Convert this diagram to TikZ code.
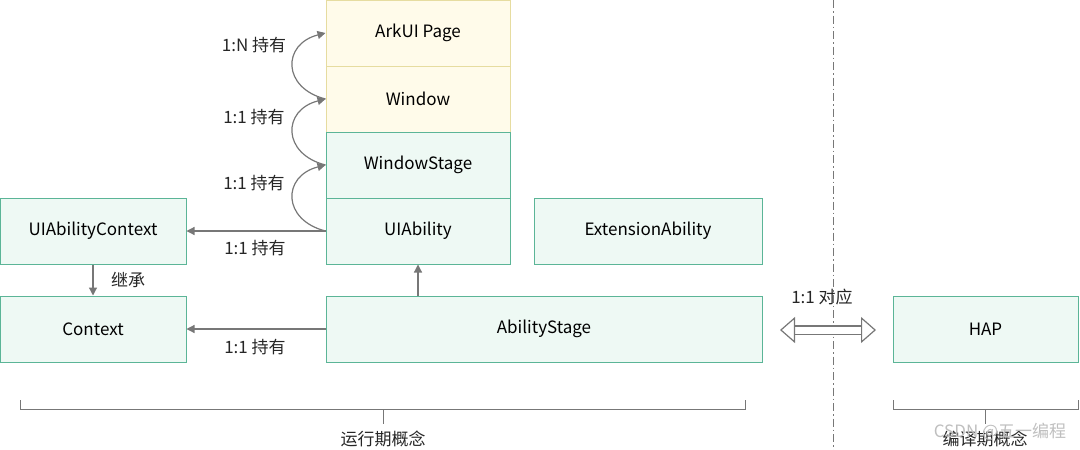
\documentclass[tikz,border=0pt]{standalone}
\usepackage{fontspec}
\setmainfont{Noto Sans CJK SC}
\usetikzlibrary{arrows.meta,decorations.pathreplacing}
\definecolor{ybg}{HTML}{FFFBEA}\definecolor{ybd}{HTML}{E6DCA0}
\definecolor{gbg}{HTML}{EEF9F4}\definecolor{gbd}{HTML}{5BB597}
\definecolor{ln}{HTML}{777777}
\begin{document}
\begin{tikzpicture}[x=1pt,y=-1pt,
 ybox/.style={draw=ybd,fill=ybg,line width=1pt,minimum height=66pt,inner sep=0pt,font=\fontsize{17}{17}\selectfont},
 gbox/.style={draw=gbd,fill=gbg,line width=1pt,minimum height=66pt,inner sep=0pt,font=\fontsize{17}{17}\selectfont},
 lab/.style={font=\fontsize{17}{17}\selectfont,text=black!85},
 arr/.style={draw=ln,line width=1.2pt,-{Triangle[length=8pt,width=8pt]}},
 brace/.style={draw=ln,line width=1pt}]
\useasboundingbox (0,0) rectangle (1080,450);
\node[ybox,minimum width=184pt] (ark) at (418,33) {ArkUI Page};
\node[ybox,minimum width=184pt] (win) at (418,99) {Window};
\node[gbox,minimum width=184pt] (ws) at (418,165) {WindowStage};
\node[gbox,minimum width=184pt] (uia) at (418,231) {UIAbility};
\node[gbox,minimum width=186pt] (uic) at (93,231) {UIAbilityContext};
\node[gbox,minimum width=228pt] (ext) at (648,231) {ExtensionAbility};
\node[gbox,minimum width=186pt] (ctx) at (93,329) {Context};
\node[gbox,minimum width=436pt] (as) at (544,329) {AbilityStage};
\node[gbox,minimum width=185pt] (hap) at (985.5,329) {HAP};
\draw[arr] (uia.west) .. controls (282,220) and (282,176) .. (ws.west);
\draw[arr] (ws.west) .. controls (282,154) and (282,110) .. (win.west);
\draw[arr] (win.west) .. controls (282,88) and (282,44) .. (ark.west);
\node[lab] (l1) at (254,183) {1:1 持有};
\node[lab] (l2) at (254,117) {1:1 持有};
\node[lab] (l3) at (254,45) {1:N 持有};
\draw[arr] (uia.west) -- (uic.east);
\node[lab] (l4) at (255,248) {1:1 持有};
\draw[arr] (uic.south) -- (ctx.north);
\node[lab] (l5) at (128,280) {继承};
\draw[arr] (as.west) -- (ctx.east);
\node[lab] (l6) at (255,347) {1:1 持有};
\draw[arr] (as.north-|uia) -- (uia.south);
\draw[ln,line width=0.8pt,dash pattern=on 8pt off 3pt on 1.5pt off 3pt] (833,0) -- (833,450);
\coordinate (da) at (780,330); \coordinate (db) at (876,330);
\draw[ln,line width=1.2pt,double=white,double distance=7pt,{Triangle[open,length=15pt,width=26pt]}-{Triangle[open,length=15pt,width=26pt]}] (da) -- (db);
\node[lab] (l7) at (822,297) {1:1 对应};
\draw[brace] (20,400) -- (20,409) -- (745,409) -- (745,400);
\draw[brace] (383,409) -- (383,424);
\node[lab] (b1) at (383,439) {运行期概念};
\draw[brace] (893,400) -- (893,409) -- (1078,409) -- (1078,400);
\draw[brace] (985,409) -- (985,424);
\node[lab] (b2) at (985,439) {编译期概念};
\node[font=\fontsize{17}{17}\selectfont,text=black!25] (wm) at (1000,432) {CSDN @五一编程};
\end{tikzpicture}
\end{document}
